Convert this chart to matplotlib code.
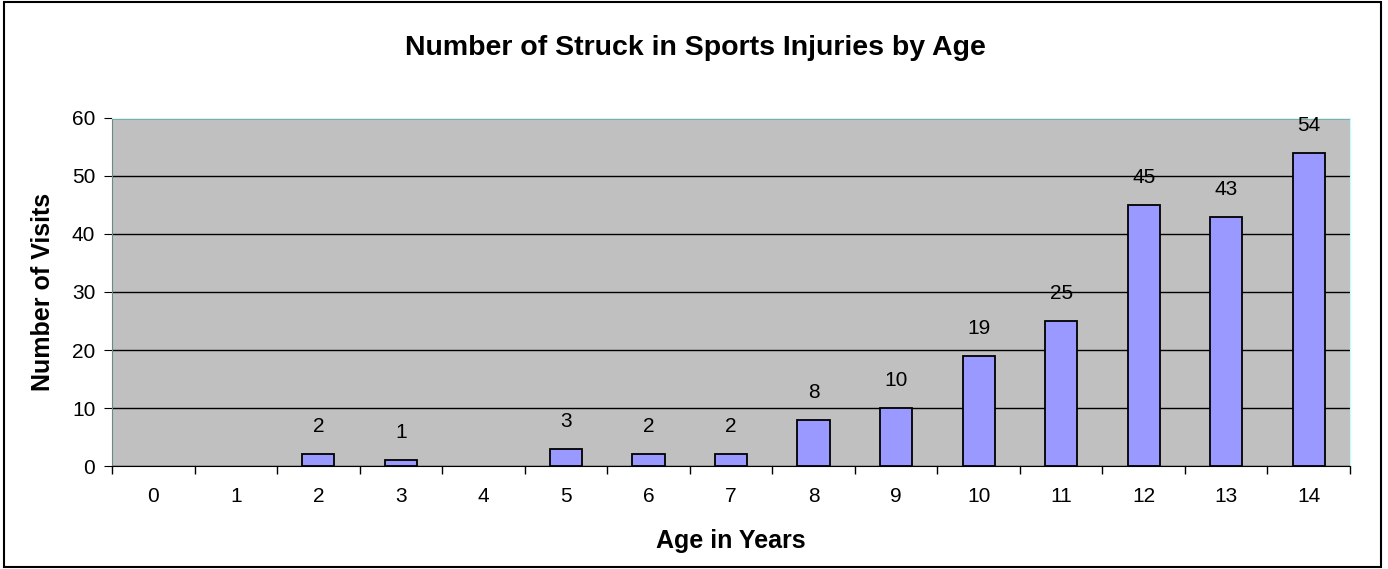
import matplotlib.pyplot as plt
from matplotlib.patches import Rectangle

plt.rcParams['font.family'] = ['Liberation Sans', 'DejaVu Sans']

ages = [0, 1, 2, 3, 4, 5, 6, 7, 8, 9, 10, 11, 12, 13, 14]
visits = [0, 0, 2, 1, 0, 3, 2, 2, 8, 10, 19, 25, 45, 43, 54]

fig = plt.figure(figsize=(13.88, 5.69), dpi=100)
ax = fig.add_axes([112 / 1388, 1 - 466 / 569, (1350 - 112) / 1388, (466 - 118) / 569])
ax.set_facecolor('#C0C0C0')

# zero-height bars are not drawn in the original
shown = [(a, v) for a, v in zip(ages, visits) if v > 0]
ax.bar([a for a, v in shown], [v for a, v in shown], width=0.39, color='#9999FF',
       edgecolor='black', linewidth=1.3, zorder=3)
for x, v in shown:
    ax.annotate(str(v), (x, v), xytext=(0, 13), textcoords='offset points',
                ha='center', va='bottom', fontsize=15)

ax.set_xlim(-0.5, 14.5)
ax.set_ylim(0, 60)
ax.set_yticks(range(0, 61, 10))
ax.set_xticks(ages)
ax.set_xticks([a + 0.5 for a in ages[:-1]] + [-0.5, 14.5], minor=True)
ax.tick_params(axis='x', which='major', length=0, pad=15, labelsize=15)
ax.tick_params(axis='x', which='minor', length=6, direction='out', width=1)
ax.tick_params(axis='y', length=6, direction='out', labelsize=15, pad=6)
ax.yaxis.grid(True, color='black', linewidth=1)
ax.set_axisbelow(True)

ax.spines['top'].set_color('#C0FFFF')
ax.spines['right'].set_color('#C0FFFF')
ax.spines['left'].set_color('#6A8A8A')
ax.spines['bottom'].set_color('black')

ax.set_xlabel('Age in Years', fontsize=18, fontweight='bold', va='center')
ax.xaxis.set_label_coords(0.5, (466 - 541) / 348)
ax.set_ylabel('Number of Visits', fontsize=18, fontweight='bold', va='center')
ax.yaxis.set_label_coords((43 - 112) / 1238, 0.5)
fig.text(695 / 1388, 1 - 48 / 569, 'Number of Struck in Sports Injuries by Age',
         ha='center', va='center', fontsize=20.5, fontweight='bold')

fig.patches.append(Rectangle((4 / 1388, 2 / 569), 1377 / 1388, 565 / 569, transform=fig.transFigure,
                             fill=False, edgecolor='black', linewidth=1.5))

fig.savefig('out.png', dpi=100)
